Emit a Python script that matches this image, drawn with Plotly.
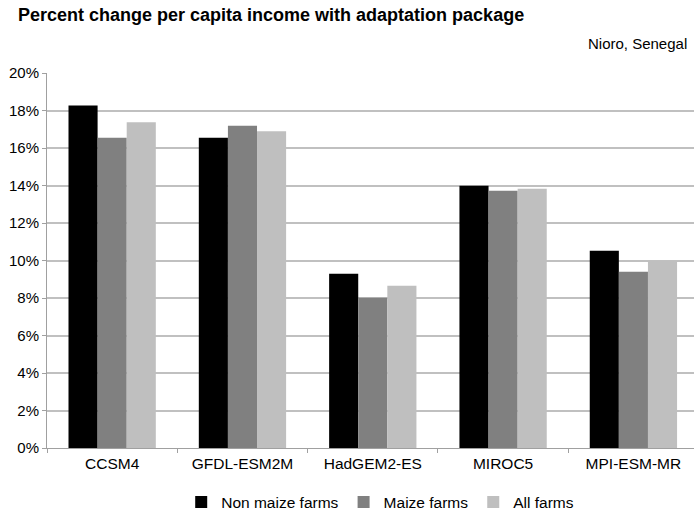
import plotly.graph_objects as go

categories = ["CCSM4", "GFDL-ESM2M", "HadGEM2-ES", "MIROC5", "MPI-ESM-MR"]
non_maize = [18.26, 16.55, 9.29, 13.99, 10.52]
maize = [16.55, 17.19, 8.01, 13.72, 9.40]
all_farms = [17.37, 16.89, 8.65, 13.83, 9.97]
series_names = ["Non maize farms", "Maize farms", "All farms"]
colors = ["#000000", "#808080", "#bfbfbf"]
y_ticks = list(range(0, 21, 2))

fig = go.Figure()
for name, vals, c in zip(series_names, [non_maize, maize, all_farms], colors):
    fig.add_trace(go.Bar(name=name, x=categories, y=vals, marker=dict(color=c, line=dict(width=0))))

font = "Liberation Sans, Arial, sans-serif"
fig.update_layout(
    width=694, height=510,
    margin=dict(l=47, r=0, t=73, b=62, autoexpand=False),
    paper_bgcolor="white", plot_bgcolor="white",
    barmode="group", bargap=0.33, bargroupgap=0,
    font=dict(family=font, size=15, color="#000000"),
    showlegend=True,
    legend=dict(orientation="h", x=0.515, xanchor="center", y=-0.1, yanchor="top",
                font=dict(size=15.5), itemwidth=30, traceorder="normal"),
    annotations=[
        dict(text="<b>Percent change per capita income with adaptation package</b>",
             xref="paper", yref="paper", x=-0.048, y=1.0, yanchor="bottom", xanchor="left",
             yshift=46, showarrow=False, font=dict(size=18, family=font)),
        dict(text="Nioro, Senegal", xref="paper", yref="paper", x=0.993, xanchor="right",
             y=1.0, yanchor="bottom", yshift=19, showarrow=False, font=dict(size=15, family=font)),
    ],
)
fig.update_xaxes(
    type="category", range=[-0.5, 4.465], automargin=False,
    showline=True, linecolor="#a0a0a0", linewidth=1,
    ticks="outside", tickson="boundaries", ticklen=4, tickcolor="#a0a0a0",
    showgrid=False, tickfont=dict(size=15.5), ticklabelstandoff=1,
)
fig.update_yaxes(
    range=[0, 20], tickvals=y_ticks, ticktext=[f"{v}%" for v in y_ticks], automargin=False,
    showline=True, linecolor="#a0a0a0", linewidth=1,
    ticks="outside", ticklen=4, tickcolor="#a0a0a0",
    showgrid=True, gridcolor="#c0c0c0", gridwidth=1.5,
    tickfont=dict(size=15), zeroline=False,
)
fig.write_html("out.html", config={"displayModeBar": False},
               post_script="document.body.style.margin='0';document.body.style.overflow='hidden';")
